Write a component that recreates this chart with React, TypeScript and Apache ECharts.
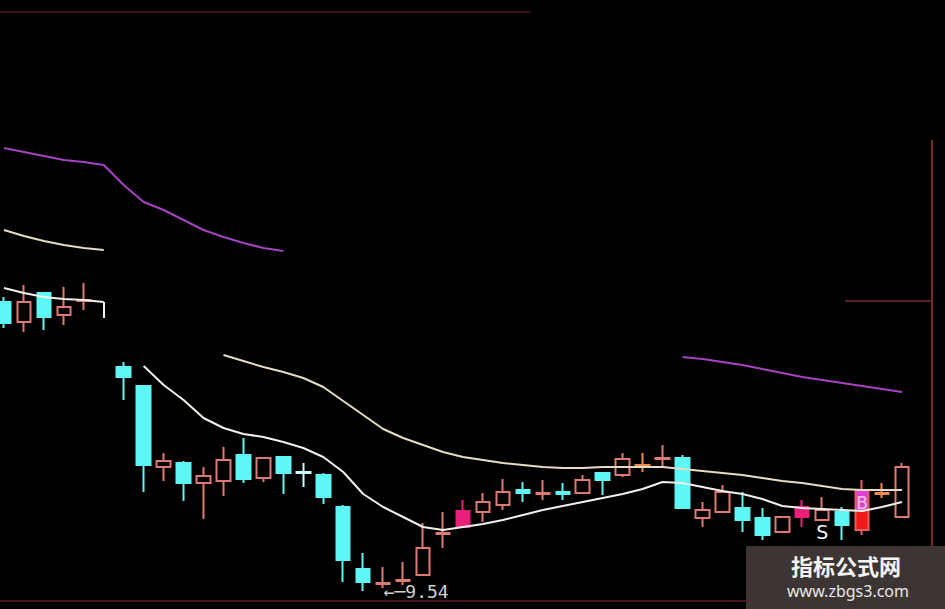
import React, { useEffect, useRef } from "react";
import * as echarts from "echarts";

// 46 trading-day slots (slot 5 is an empty gap in the picture)
const days: string[] = Array.from({ length: 46 }, (_, i) => `D${i + 1}`);

// [open, close, low, high]
const candles: (number | string)[][] = [
  [12.43, 12.22, 12.17, 12.48],
  [12.23, 12.43, 12.13, 12.6],
  [12.52, 12.28, 12.15, 12.52],
  [12.3, 12.38, 12.2, 12.58],
  [12.44, 12.45, 12.35, 12.62],
  ["-", "-", "-", "-"],
  [11.78, 11.68, 11.45, 11.83],
  [11.59, 10.8, 10.53, 11.59],
  [10.78, 10.84, 10.64, 10.92],
  [10.82, 10.62, 10.44, 10.84],
  [10.62, 10.69, 10.26, 10.78],
  [10.64, 10.85, 10.49, 10.98],
  [10.9, 10.66, 10.62, 11.07],
  [10.67, 10.87, 10.63, 10.88],
  [10.88, 10.72, 10.51, 10.88],
  [10.73, 10.72, 10.58, 10.82],
  [10.7, 10.48, 10.41, 10.72],
  [10.38, 9.85, 9.63, 10.4],
  [9.76, 9.63, 9.54, 9.92],
  [9.61, 9.62, 9.57, 9.78],
  [9.64, 9.65, 9.6, 9.83],
  [9.7, 9.97, 9.7, 10.22],
  [10.11, 10.12, 9.97, 10.33],
  [10.18, 10.34, 10.18, 10.45],
  [10.33, 10.43, 10.23, 10.52],
  [10.4, 10.53, 10.35, 10.66],
  [10.55, 10.52, 10.43, 10.63],
  [10.51, 10.52, 10.45, 10.65],
  [10.53, 10.51, 10.45, 10.62],
  [10.52, 10.65, 10.52, 10.7],
  [10.72, 10.65, 10.5, 10.72],
  [10.7, 10.86, 10.68, 10.92],
  [10.79, 10.8, 10.73, 10.92],
  [10.86, 10.87, 10.78, 11.0],
  [10.87, 10.37, 10.37, 10.9],
  [10.27, 10.35, 10.18, 10.43],
  [10.33, 10.53, 10.33, 10.6],
  [10.37, 10.25, 10.13, 10.53],
  [10.27, 10.1, 10.05, 10.37],
  [10.13, 10.28, 10.13, 10.28],
  [10.28, 10.38, 10.18, 10.45],
  [10.25, 10.35, 10.25, 10.48],
  [10.33, 10.2, 10.05, 10.38],
  [10.15, 10.55, 10.1, 10.65],
  [10.51, 10.52, 10.47, 10.62],
  [10.28, 10.78, 10.28, 10.82],
];

const maShort: (number | string)[] = [
  12.57, 12.52, 12.48, 12.46, 12.45, 12.43, "-", 11.79, 11.6, 11.45,
  11.27, 11.17, 11.11, 11.08, 11.03, 10.97, 10.88, 10.73, 10.51, 10.38,
  10.28, 10.18, 10.15, 10.18, 10.21, 10.25, 10.3, 10.35, 10.39, 10.43,
  10.47, 10.51, 10.56, 10.63, 10.62, 10.58, 10.54, 10.51, 10.46, 10.39,
  10.37, 10.36, 10.35, 10.34, 10.38, 10.43,
];
// short vertical hook where the short MA ends before the gap
const maShortHook = { day: 5, from: 12.43, to: 12.27 };

const maMid: (number | string)[] = [
  13.15, 13.09, 13.04, 13.0, 12.97, 12.95, "-", "-", "-", "-",
  "-", 11.9, 11.84, 11.78, 11.73, 11.67, 11.58, 11.44, 11.3, 11.16,
  11.07, 11.0, 10.93, 10.88, 10.85, 10.82, 10.8, 10.78, 10.77, 10.77,
  10.78, 10.78, 10.78, 10.78, 10.76, 10.74, 10.72, 10.7, 10.67, 10.64,
  10.62, 10.59, 10.56, 10.55, 10.55, 10.55,
];

const maLong: (number | string)[] = [
  13.97, 13.93, 13.89, 13.85, 13.83, 13.8, 13.6, 13.43, 13.35, 13.25,
  13.15, 13.08, 13.02, 12.97, 12.94, "-", "-", "-", "-", "-",
  "-", "-", "-", "-", "-", "-", "-", "-", "-", "-",
  "-", "-", "-", "-", 11.88, 11.86, 11.83, 11.8, 11.76, 11.72,
  11.68, 11.65, 11.62, 11.59, 11.56, 11.53,
];

const lowMark = { day: 19, price: 9.54, text: "←─9.54" };
const signals = [
  { day: 41, price: 10.13, text: "S" },
  { day: 43, price: 10.42, text: "B" },
];
const magentaDays = [23, 40];
const orangeDays = [32, 44];
const paleDays = [15];
const splitDays = [43];

export default function App() {
  const ref = useRef<HTMLDivElement>(null);
  useEffect(() => {
    if (!ref.current) return;
    const chart = echarts.init(ref.current, null, { renderer: "svg" });
    const UP = "#df7a72";
    const DOWN = "#5ff6f6";

    const candleData = candles.map((c, i) => {
      if (magentaDays.includes(i)) {
        return { value: c, itemStyle: { color: "#e8207a", borderColor: "#e8207a", color0: "#e8207a", borderColor0: "#e8207a" } };
      }
      if (orangeDays.includes(i)) {
        return { value: c, itemStyle: { color: "#000", borderColor: "#f08a50" } };
      }
      if (paleDays.includes(i)) {
        return { value: c, itemStyle: { color0: "#c8ffff", borderColor0: "#c8ffff" } };
      }
      if (splitDays.includes(i)) {
        return {
          value: c,
          itemStyle: {
            color: new echarts.graphic.LinearGradient(0, 0, 0, 1, [
              { offset: 0, color: "#e040d8" },
              { offset: 0.55, color: "#e040d8" },
              { offset: 0.56, color: "#f01818" },
              { offset: 1, color: "#f01818" },
            ]),
            borderColor: "#e86060",
          },
        };
      }
      return { value: c };
    });

    chart.setOption({
      animation: false,
      backgroundColor: "#000000",
      grid: { left: -6, right: 33, top: 0, bottom: 0, outerBoundsMode: "none", containLabel: false },
      xAxis: {
        type: "category",
        data: days,
        show: false,
        boundaryGap: true,
      },
      yAxis: {
        type: "value",
        min: 9.36,
        max: 15.45,
        show: false,
        splitLine: { show: false },
      },
      series: [
        {
          type: "candlestick",
          data: candleData,
          barWidth: 14,
          itemStyle: {
            color: "#000000",
            color0: DOWN,
            borderColor: UP,
            borderColor0: DOWN,
            borderWidth: 2,
          },
          markPoint: {
            symbol: "circle",
            symbolSize: 1,
            itemStyle: { color: "rgba(0,0,0,0)" },
            data: [
              {
                coord: [days[lowMark.day], lowMark.price],
                label: {
                  show: true,
                  position: "right",
                  distance: 0,
                  formatter: lowMark.text,
                  color: "#cfcfcf",
                  fontFamily: "DejaVu Sans Mono",
                  fontSize: 18,
                },
              },
              ...signals.map((s) => ({
                coord: [days[s.day], s.price],
                label: {
                  show: true,
                  position: "inside",
                  formatter: s.text,
                  color: s.text === "S" ? "#f2f2f2" : "#f4c8d8",
                  fontFamily: "DejaVu Sans",
                  fontSize: s.text === "S" ? 19 : 17,
                },
              })),
            ],
          },
        },
        {
          type: "line",
          data: maShort,
          symbol: "none",
          connectNulls: false,
          lineStyle: { color: "#f2f0ea", width: 2 },
          markLine: {
            silent: true,
            symbol: "none",
            label: { show: false },
            lineStyle: { color: "#f2f0ea", width: 2, type: "solid" },
            data: [
              [
                { coord: [days[maShortHook.day], maShortHook.from] },
                { coord: [days[maShortHook.day], maShortHook.to] },
              ],
            ],
          },
        },
        {
          type: "line",
          data: maMid,
          symbol: "none",
          connectNulls: false,
          lineStyle: { color: "#e6dcc4", width: 2 },
        },
        {
          type: "line",
          data: maLong,
          symbol: "none",
          connectNulls: false,
          lineStyle: { color: "#a642c2", width: 2 },
        },
      ],
      graphic: [
        { type: "line", shape: { x1: 0, y1: 12, x2: 530, y2: 12 }, style: { stroke: "#3e1216", lineWidth: 2 }, z: 10 },
        { type: "line", shape: { x1: 932, y1: 140, x2: 932, y2: 601 }, style: { stroke: "#7a2a2a", lineWidth: 2 }, z: 10 },
        { type: "line", shape: { x1: 845, y1: 301, x2: 932, y2: 301 }, style: { stroke: "#5a2020", lineWidth: 2 }, z: 10 },
        { type: "line", shape: { x1: 0, y1: 601, x2: 945, y2: 601 }, style: { stroke: "#4a161a", lineWidth: 2 }, z: 10 },
        { type: "rect", shape: { x: 746, y: 546, width: 199, height: 63 }, style: { fill: "#3d3533" }, z: 20 },
        {
          type: "text",
          x: 846,
          y: 565,
          style: {
            text: "指标公式网",
            fill: "#f4f4f4",
            font: "bold 22px 'Noto Sans CJK SC'",
            textAlign: "center",
            textVerticalAlign: "middle",
          },
          z: 21,
        },
        {
          type: "text",
          x: 848,
          y: 591,
          style: {
            text: "www.zbgs3.com",
            fill: "#e8e8e8",
            font: "16px 'Noto Sans'",
            textAlign: "center",
            textVerticalAlign: "middle",
          },
          z: 21,
        },
      ],
    });
    return () => chart.dispose();
  }, []);
  return (
    <div
      ref={ref}
      style={{ position: "absolute", left: 0, top: 0, width: 945, height: 609 }}
    />
  );
}
